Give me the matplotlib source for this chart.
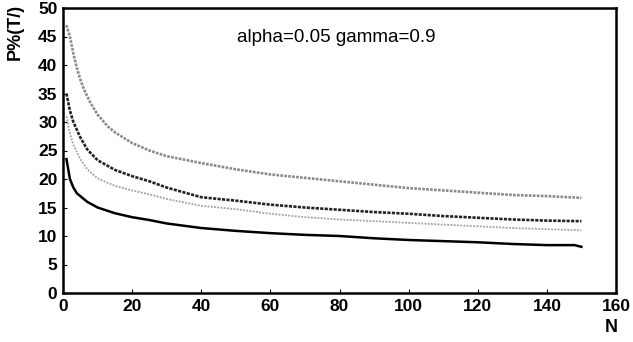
import matplotlib
matplotlib.use("Agg")
import matplotlib.pyplot as plt

plt.rcParams['font.family'] = ['Liberation Sans', 'DejaVu Sans']

n_top = [1, 2, 3, 4, 5, 6, 8, 10, 13, 15, 20, 25, 30, 40, 50, 60, 70, 80, 90, 100, 110, 120, 130, 140, 150]
p_top = [47, 45, 42, 39.5, 37.5, 35.8, 33.3, 31.3, 29.2, 28.2, 26.3, 25, 24, 22.8, 21.7, 20.8, 20.2, 19.6, 19, 18.4, 18, 17.6, 17.2, 17, 16.7]

n_mid = [1, 2, 3, 5, 7, 10, 15, 20, 25, 30, 40, 50, 60, 70, 80, 90, 100, 110, 120, 130, 140, 150]
p_mid = [35, 32, 30, 27.3, 25.2, 23.3, 21.6, 20.5, 19.6, 18.5, 16.8, 16.2, 15.5, 15, 14.6, 14.2, 13.9, 13.5, 13.2, 12.9, 12.7, 12.6]

n_dot = [1, 2, 3, 5, 7, 10, 15, 20, 25, 30, 40, 50, 60, 70, 80, 90, 100, 110, 120, 130, 140, 150]
p_dot = [31, 28, 26, 23.5, 21.7, 20.1, 18.8, 18, 17.3, 16.5, 15.3, 14.7, 13.9, 13.3, 12.9, 12.6, 12.3, 12, 11.7, 11.4, 11.2, 11.0]

n_low = [1, 2, 3, 4, 5, 7, 10, 15, 20, 25, 30, 40, 50, 60, 70, 80, 90, 100, 110, 120, 130, 140, 148, 150]
p_low = [23.5, 20, 18.5, 17.5, 17, 16, 15, 14, 13.3, 12.8, 12.2, 11.4, 10.9, 10.5, 10.2, 10, 9.6, 9.3, 9.1, 8.9, 8.6, 8.4, 8.4, 8.1]

x_ticks = list(range(0, 161, 20))
y_ticks = list(range(0, 51, 5))

fig = plt.figure(figsize=(6.33, 3.42), dpi=100)
ax = fig.add_axes([63/633, 49/342, 553/633, 285/342])

ax.plot(n_top, p_top, color='#8a8a8a', lw=1.9, ls=(0, (1, 0.5)))
ax.plot(n_mid, p_mid, color='#222222', lw=1.9, ls=(0, (1.2, 0.5)))
ax.plot(n_dot, p_dot, color='#a0a0a0', lw=1.3, ls=(0, (1, 0.8)))
ax.plot(n_low, p_low, color='black', lw=1.8)

ax.set_xlim(0, 160)
ax.set_ylim(0, 50)
ax.set_xticks(x_ticks)
ax.set_yticks(y_ticks)
ax.tick_params(direction='in', length=3, width=0.8, labelsize=12.5, pad=4)
for lab in ax.get_xticklabels() + ax.get_yticklabels():
    lab.set_fontweight('bold')
for sp in ax.spines.values():
    sp.set_linewidth(1.8)

ax.text(79, 44.8, 'alpha=0.05 gamma=0.9', ha='center', va='center', fontsize=13.5)
fig.text(15/633, 1 - 32/342, 'P%(T/)', rotation=90, ha='center', va='center',
         fontsize=13, fontweight='bold')
fig.text(611/633, 1 - 328/342, 'N', ha='center', va='center', fontsize=13, fontweight='bold')

plt.savefig("out.png", dpi=100)
